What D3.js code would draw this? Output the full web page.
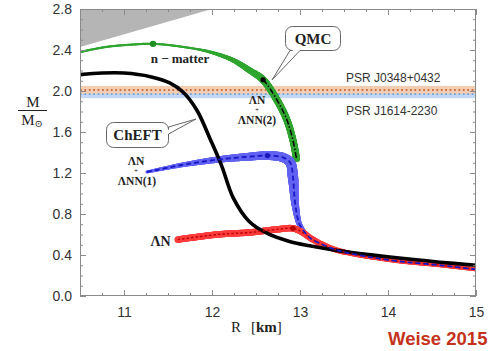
<!DOCTYPE html>
<html>
<head>
<meta charset="utf-8">
<script src="https://cdn.jsdelivr.net/npm/d3@7"></script>
<style>
  html, body { margin: 0; padding: 0; background: #fff; }
  svg { display: block; }
</style>
</head>
<body>
<svg id="chart" width="494" height="351"></svg>
<script>
// ---- axis ticks ----
const R_TICKS = [11, 12, 13, 14, 15];
const M_TICKS = [0.0, 0.4, 0.8, 1.2, 1.6, 2.0, 2.4, 2.8];

// ---- excluded (causality) region corners ----
const causalR = [10.5, 10.5, 12.0];
const causalM = [2.8, 2.43, 2.8];

// ---- pulsar mass constraints ----
const psrNames = ["PSR J0348+0432", "PSR J1614-2230"];
const psrMass  = [2.01, 1.97];
const psrErr   = [0.04, 0.04];

// ---- ChEFT mass-radius relation ----
const chEFT_R = [10.5, 10.75, 11.0, 11.3, 11.52, 11.67, 11.83, 11.98, 12.11, 12.24, 12.42, 12.63, 12.89, 13.11, 13.45, 14.02, 14.59, 15.0];
const chEFT_M = [2.16, 2.175, 2.175, 2.14, 2.08, 1.99, 1.81, 1.53, 1.27, 0.96, 0.73, 0.61, 0.53, 0.49, 0.44, 0.38, 0.33, 0.30];

// ---- QMC: pure neutron matter, continued by ΛN + ΛNN(2) ----
const qmcN_R = [10.5, 10.8, 11.05, 11.33, 11.67, 11.98, 12.24, 12.43, 12.58, 12.74, 12.85, 12.92, 12.96];
const qmcN_M = [2.38, 2.43, 2.45, 2.46, 2.43, 2.38, 2.30, 2.20, 2.11, 1.91, 1.72, 1.52, 1.34];
const nMatterMax = [11.33, 2.46];
const lamNN2Max  = [12.58, 2.11];

// ---- QMC: ΛN + ΛNN(1) ----
const lamNN1_R = [11.26, 11.67, 12.06, 12.43, 12.63, 12.81, 12.89, 12.92, 12.94, 12.97, 13.0, 13.11, 13.26, 13.45, 14.02, 14.59, 15.0];
const lamNN1_M = [1.21, 1.28, 1.33, 1.36, 1.37, 1.35, 1.30, 1.16, 0.94, 0.77, 0.69, 0.57, 0.50, 0.44, 0.35, 0.30, 0.26];
const lamNN1Max = [12.63, 1.37];

// ---- QMC: ΛN only ----
const lamN_R = [11.61, 12.06, 12.43, 12.74, 12.92, 13.03, 13.11, 13.26, 13.45, 14.02, 14.59, 15.0];
const lamN_M = [0.55, 0.60, 0.62, 0.65, 0.66, 0.62, 0.57, 0.50, 0.44, 0.35, 0.30, 0.26];
const lamNMax = [12.92, 0.66];

// ---------------------------------------------------------------
const svg = d3.select("#chart");
const X0 = 80, X1 = 476, Y0 = 9, Y1 = 296;
const x = d3.scaleLinear().domain([10.5, 15]).range([X0, X1]);
const y = d3.scaleLinear().domain([0, 2.8]).range([Y1, Y0]);

const zip = (a, b) => a.map((v, i) => [v, b[i]]);
const curve = d3.line().x(d => x(d[0])).y(d => y(d[1])).curve(d3.curveCatmullRom.alpha(0.5));
const poly = d3.line().x(d => d.x).y(d => d.y);

const plot = svg.append("g");
const clip = svg.append("clipPath").attr("id", "plotclip");
clip.append("rect").attr("x", X0).attr("y", Y0).attr("width", X1 - X0).attr("height", Y1 - Y0);
plot.attr("clip-path", "url(#plotclip)");

// excluded region
plot.append("path")
  .attr("d", d3.line().x(d => x(d[0])).y(d => y(d[1]))(zip(causalR, causalM)) + "Z")
  .attr("fill", "#b5b5b5");

// pulsar bands (lower mass first, heavier on top)
const bandFill = ["#f3cdb2", "#c2d8f4"];
const dotCol = ["#c8704c", "#6f9ee0"];
[1, 0].forEach(i => {
  plot.append("rect")
    .attr("x", X0).attr("width", X1 - X0)
    .attr("y", y(psrMass[i] + psrErr[i]))
    .attr("height", y(psrMass[i] - psrErr[i]) - y(psrMass[i] + psrErr[i]))
    .attr("fill", bandFill[i]);
});
[0, 1].forEach(i => {
  plot.append("line")
    .attr("x1", X0).attr("x2", X1)
    .attr("y1", y(psrMass[i])).attr("y2", y(psrMass[i]))
    .attr("stroke", dotCol[i]).attr("stroke-width", 1.8)
    .attr("stroke-dasharray", "1.8,2.6");
});

// sample a curve at ~constant arc length
function sampleCurve(pts) {
  const p = plot.append("path").attr("d", curve(pts)).attr("fill", "none");
  const node = p.node();
  const L = node.getTotalLength();
  const out = d3.range(0, L + 0.6, 0.6).map(s => {
    const q = node.getPointAtLength(Math.min(s, L));
    return { x: q.x, y: q.y, t: Math.min(s, L) / L };
  });
  p.remove();
  return out;
}
// uncertainty band of varying width along a curve
function band(samples, color, widthAt) {
  plot.append("g").selectAll("circle").data(samples).join("circle")
    .attr("cx", d => d.x).attr("cy", d => d.y)
    .attr("r", d => widthAt(d.t) / 2)
    .attr("fill", color);
}
const lerp = (a, b, u) => a + (b - a) * Math.max(0, Math.min(1, u));
function nearestT(samples, pt) {
  const px = x(pt[0]), py = y(pt[1]);
  return d3.least(samples, s => (s.x - px) ** 2 + (s.y - py) ** 2).t;
}

const sN = sampleCurve(zip(qmcN_R, qmcN_M));
const s1 = sampleCurve(zip(lamNN1_R, lamNN1_M));
const s0 = sampleCurve(zip(lamN_R, lamN_M));
const tN = nearestT(sN, lamNN2Max);
const t1c = nearestT(s1, [12.92, 1.16]);
const t1b = nearestT(s1, [13.0, 0.69]);
const t0p = nearestT(s0, lamNMax);

// bands
band(sN, "#30a530", t => t < 0.42 ? 2.2 : lerp(2.2, 7, (t - 0.42) / (tN - 0.42)));
band(s1, "#6262f2", t => t < t1c ? lerp(3, 10.5, t / t1c) : t < t1b ? lerp(10.5, 5, (t - t1c) / (t1b - t1c)) : lerp(5, 2, (t - t1b) / 0.06));
band(s0, "#ff3c3c", t => t < t0p ? 6.5 : lerp(6.5, 4.2, (t - t0p) / 0.3));

// ChEFT
plot.append("path")
  .attr("d", curve(zip(chEFT_R, chEFT_M)))
  .attr("fill", "none").attr("stroke", "#000").attr("stroke-width", 3.6)
  .attr("stroke-linecap", "round");

// central lines
plot.append("path").attr("d", poly(s0))
  .attr("fill", "none").attr("stroke", "#b80000").attr("stroke-width", 1.4)
  .attr("stroke-dasharray", "2.5,2");
plot.append("path").attr("d", poly(s1))
  .attr("fill", "none").attr("stroke", "#1717c4").attr("stroke-width", 1.8)
  .attr("stroke-dasharray", "5,3");
plot.append("path").attr("d", poly(sN.filter(s => s.t >= tN)))
  .attr("fill", "none").attr("stroke", "#000").attr("stroke-width", 1.5)
  .attr("stroke-dasharray", "6,2,1.5,2");

// maximum-mass markers
[[nMatterMax, "#1f8f1f", 3.2], [lamNN2Max, "#000", 2.6], [lamNN1Max, "#1515b8", 2.6], [lamNMax, "#b00000", 2.6]]
  .forEach(([p, c, r]) => {
    plot.append("circle").attr("cx", x(p[0])).attr("cy", y(p[1])).attr("r", r).attr("fill", c);
  });

// ---- frame and ticks ----
const frameCol = "#8a8a8a";
const minorR = d3.range(10.75, 15, 0.25).filter(v => Math.abs(v - Math.round(v)) > 1e-6);
const minorM = d3.range(0.1, 2.8, 0.1).filter(v => Math.abs(v * 2.5 - Math.round(v * 2.5)) > 1e-6);

function styleAxis(g) {
  g.select(".domain").remove();
  g.selectAll(".tick line").attr("stroke", frameCol);
  g.selectAll(".tick text").attr("fill", "#333").attr("font-family", "'Liberation Sans', Arial, sans-serif").attr("font-size", 14);
}
svg.append("g").attr("transform", `translate(0,${Y1})`)
  .call(d3.axisBottom(x).tickValues(R_TICKS).tickSize(-6).tickPadding(11).tickFormat(d3.format("d"))).call(styleAxis);
svg.append("g").attr("transform", `translate(0,${Y1})`)
  .call(d3.axisBottom(x).tickValues(minorR).tickSize(-3).tickFormat("")).call(styleAxis);
svg.append("g").attr("transform", `translate(0,${Y0})`)
  .call(d3.axisTop(x).tickValues(R_TICKS).tickSize(-6).tickFormat("")).call(styleAxis);
svg.append("g").attr("transform", `translate(0,${Y0})`)
  .call(d3.axisTop(x).tickValues(minorR).tickSize(-3).tickFormat("")).call(styleAxis);
svg.append("g").attr("transform", `translate(${X0},0)`)
  .call(d3.axisLeft(y).tickValues(M_TICKS).tickSize(-6).tickPadding(8).tickFormat(d3.format(".1f"))).call(styleAxis);
svg.append("g").attr("transform", `translate(${X0},0)`)
  .call(d3.axisLeft(y).tickValues(minorM).tickSize(-3).tickFormat("")).call(styleAxis);
svg.append("g").attr("transform", `translate(${X1},0)`)
  .call(d3.axisRight(y).tickValues(M_TICKS).tickSize(-6).tickFormat("")).call(styleAxis);
svg.append("g").attr("transform", `translate(${X1},0)`)
  .call(d3.axisRight(y).tickValues(minorM).tickSize(-3).tickFormat("")).call(styleAxis);
svg.append("rect").attr("x", X0 + 0.5).attr("y", Y0 + 0.5)
  .attr("width", X1 - X0 - 1).attr("height", Y1 - Y0 - 1)
  .attr("fill", "none").attr("stroke", frameCol).attr("stroke-width", 1);

// ---- labels ----
const serif = "'Liberation Serif', 'DejaVu Serif', serif";
const sans = "'Liberation Sans', Arial, sans-serif";

// pulsar names
svg.append("text").attr("x", 346).attr("y", 82).text(psrNames[0])
  .attr("font-family", sans).attr("font-size", 12).attr("fill", "#333");
svg.append("text").attr("x", 346).attr("y", 115).text(psrNames[1])
  .attr("font-family", sans).attr("font-size", 12).attr("fill", "#333");

// curve labels
function label(txt, cx, by, size) {
  svg.append("text").attr("x", cx).attr("y", by).attr("text-anchor", "middle")
    .attr("font-family", serif).attr("font-weight", "bold").attr("font-size", size)
    .attr("fill", "#222").text(txt);
}
label("n \u2212 matter", 180, 63, 13);
label("\u039BN", 257, 103.5, 11.5);
label("+", 257, 112.4, 7);
label("\u039BNN(2)", 257, 124.3, 11.5);
label("\u039BN", 136, 164.5, 11.5);
label("+", 136, 173.4, 7);
label("\u039BNN(1)", 137, 185.3, 11.5);
label("\u039BN", 160.5, 246, 14);

// callout boxes
const r = 7;
function qmcPath(x0, y0, w, h) {
  const xb = y0 + h;
  return `M${x0 + r},${y0} H${x0 + w - r} A${r},${r} 0 0 1 ${x0 + w},${y0 + r} V${xb - r} A${r},${r} 0 0 1 ${x0 + w - r},${xb}` +
    ` H300 L272,80 L290,${xb} H${x0 + r} A${r},${r} 0 0 1 ${x0},${xb - r} V${y0 + r} A${r},${r} 0 0 1 ${x0 + r},${y0} Z`;
}
function cheftPath(x0, y0, w, h) {
  const xr = x0 + w;
  return `M${x0 + r},${y0} H${xr - r} A${r},${r} 0 0 1 ${xr},${y0 + r} V127 L196,119 L${xr},134 V${y0 + h - r}` +
    ` A${r},${r} 0 0 1 ${xr - r},${y0 + h} H${x0 + r} A${r},${r} 0 0 1 ${x0},${y0 + h - r} V${y0 + r} A${r},${r} 0 0 1 ${x0 + r},${y0} Z`;
}
svg.append("path").attr("d", qmcPath(285.5, 26.5, 55, 24))
  .attr("fill", "#fff").attr("stroke", "#666").attr("stroke-width", 1);
svg.append("text").attr("x", 313).attr("y", 43.5).attr("text-anchor", "middle")
  .attr("font-family", serif).attr("font-weight", "bold").attr("font-size", 15).attr("fill", "#222").text("QMC");
svg.append("path").attr("d", cheftPath(106.5, 122.5, 62, 25))
  .attr("fill", "#fff").attr("stroke", "#666").attr("stroke-width", 1);
svg.append("text").attr("x", 137.5).attr("y", 140).attr("text-anchor", "middle")
  .attr("font-family", serif).attr("font-weight", "bold").attr("font-size", 15).attr("fill", "#222").text("ChEFT");

// axis titles
svg.append("text").attr("x", 33).attr("y", 106.5).attr("text-anchor", "middle")
  .attr("font-family", serif).attr("font-size", 15).attr("fill", "#222").text("M");
svg.append("line").attr("x1", 18).attr("x2", 47).attr("y1", 110.5).attr("y2", 110.5)
  .attr("stroke", "#222").attr("stroke-width", 1);
const msun = svg.append("text").attr("x", 32).attr("y", 125).attr("text-anchor", "middle")
  .attr("font-family", serif).attr("font-size", 15).attr("fill", "#222");
msun.append("tspan").text("M");
msun.append("tspan").attr("font-size", 10).attr("dy", 2).text("\u2299");

const xt = svg.append("text").attr("x", 231).attr("y", 332)
  .attr("font-family", serif).attr("font-size", 15).attr("fill", "#222");
xt.append("tspan").text("R");
xt.append("tspan").attr("dx", 10).text("[");
xt.append("tspan").attr("font-weight", "bold").text("km");
xt.append("tspan").text("]");

// credit
svg.append("text").attr("x", 388).attr("y", 345)
  .attr("font-family", sans).attr("font-weight", "bold").attr("font-size", 18.5)
  .attr("fill", "#c4321c").text("Weise 2015");
</script>
</body>
</html>
